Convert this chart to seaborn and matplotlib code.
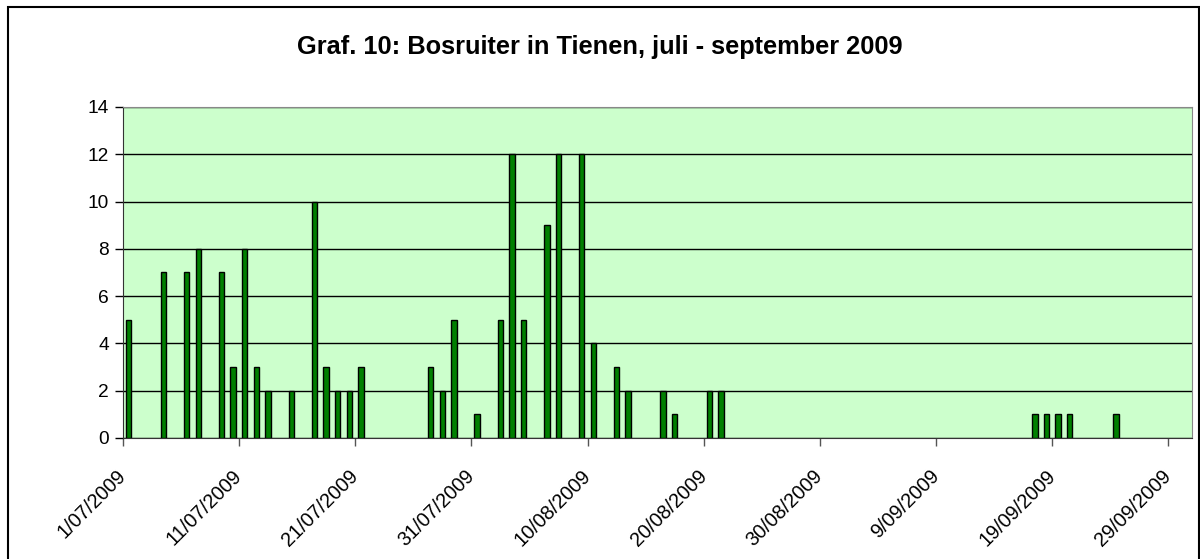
import pandas as pd
import seaborn as sns
import matplotlib.pyplot as plt
from matplotlib.patches import Rectangle

# Observation dates and counts (days without observations are left out)
dates = ['1/07/2009', '4/07/2009', '6/07/2009', '7/07/2009', '9/07/2009', '10/07/2009',
         '11/07/2009', '12/07/2009', '13/07/2009', '15/07/2009', '17/07/2009', '18/07/2009',
         '19/07/2009', '20/07/2009', '21/07/2009', '27/07/2009', '28/07/2009', '29/07/2009',
         '31/07/2009', '2/08/2009', '3/08/2009', '4/08/2009', '6/08/2009', '7/08/2009',
         '9/08/2009', '10/08/2009', '12/08/2009', '13/08/2009', '16/08/2009', '17/08/2009',
         '20/08/2009', '21/08/2009', '17/09/2009', '18/09/2009', '19/09/2009', '20/09/2009',
         '24/09/2009']
counts = [5, 7, 7, 8, 7, 3,
          8, 3, 2, 2, 10, 3,
          2, 2, 3, 3, 2, 5,
          1, 5, 12, 5, 9, 12,
          12, 4, 3, 2, 2, 1,
          2, 2, 1, 1, 1, 1,
          1]
tick_dates = ['1/07/2009', '11/07/2009', '21/07/2009', '31/07/2009', '10/08/2009',
              '20/08/2009', '30/08/2009', '9/09/2009', '19/09/2009', '29/09/2009']
start_date = '1/07/2009'
end_date = '1/10/2009'
title = 'Graf. 10: Bosruiter in Tienen, juli - september 2009'

start = pd.to_datetime(start_date, dayfirst=True)
df = pd.DataFrame({'date': pd.to_datetime(dates, dayfirst=True), 'count': counts})
df['day'] = (df['date'] - start).dt.days
n_days = (pd.to_datetime(end_date, dayfirst=True) - start).days
tick_pos = [(pd.to_datetime(t, dayfirst=True) - start).days - 0.5 for t in tick_dates]

sns.set_style('white')
plt.rcParams['font.family'] = ['Liberation Sans', 'DejaVu Sans']
plt.rcParams['text.color'] = 'black'
plt.rcParams['xtick.color'] = 'black'
plt.rcParams['ytick.color'] = 'black'

fig = plt.figure(figsize=(12, 5.59), dpi=100)
ax = fig.add_axes([0.1023, 0.2165, 0.8908, 0.5921])

sns.barplot(data=df, x='day', y='count', native_scale=True, width=0.47,
            color='#008000', edgecolor='black', linewidth=1, saturation=1,
            errorbar=None, ax=ax, zorder=3)

ax.set_facecolor('#CCFFCC')
ax.set_xlim(-0.5, n_days - 0.5)
ax.set_ylim(0, 14)
ax.set_yticks(range(0, 15, 2))
ax.yaxis.grid(True, color='black', linewidth=1)
ax.set_axisbelow(True)
ax.set_xticks(tick_pos)
ax.set_xticklabels(tick_dates, rotation=45, ha='right', va='center',
                   rotation_mode='anchor', fontsize=14.3)
ax.tick_params(axis='x', length=6, width=1, color='#555555', pad=19,
               labelcolor='black')
ax.tick_params(axis='y', length=6, width=1, color='black', labelsize=13.8, pad=4,
               labelcolor='black')
ax.tick_params(left=True, bottom=True)
ax.set_xlabel('')
ax.set_ylabel('')
for side in ['left', 'bottom']:
    ax.spines[side].set_color('#333333')
for side in ['top', 'right']:
    ax.spines[side].set_color('#888888')

fig.text(0.5, 1 - 47 / 559, title, ha='center', va='center',
         fontsize=18.3, fontweight='bold', color='black')

fig.patches.append(Rectangle((8 / 1200, -0.02), 1191 / 1200, 1 - 7 / 559 + 0.02,
                             transform=fig.transFigure, fill=False,
                             edgecolor='black', linewidth=1.5))

fig.savefig('out.png', dpi=100)
